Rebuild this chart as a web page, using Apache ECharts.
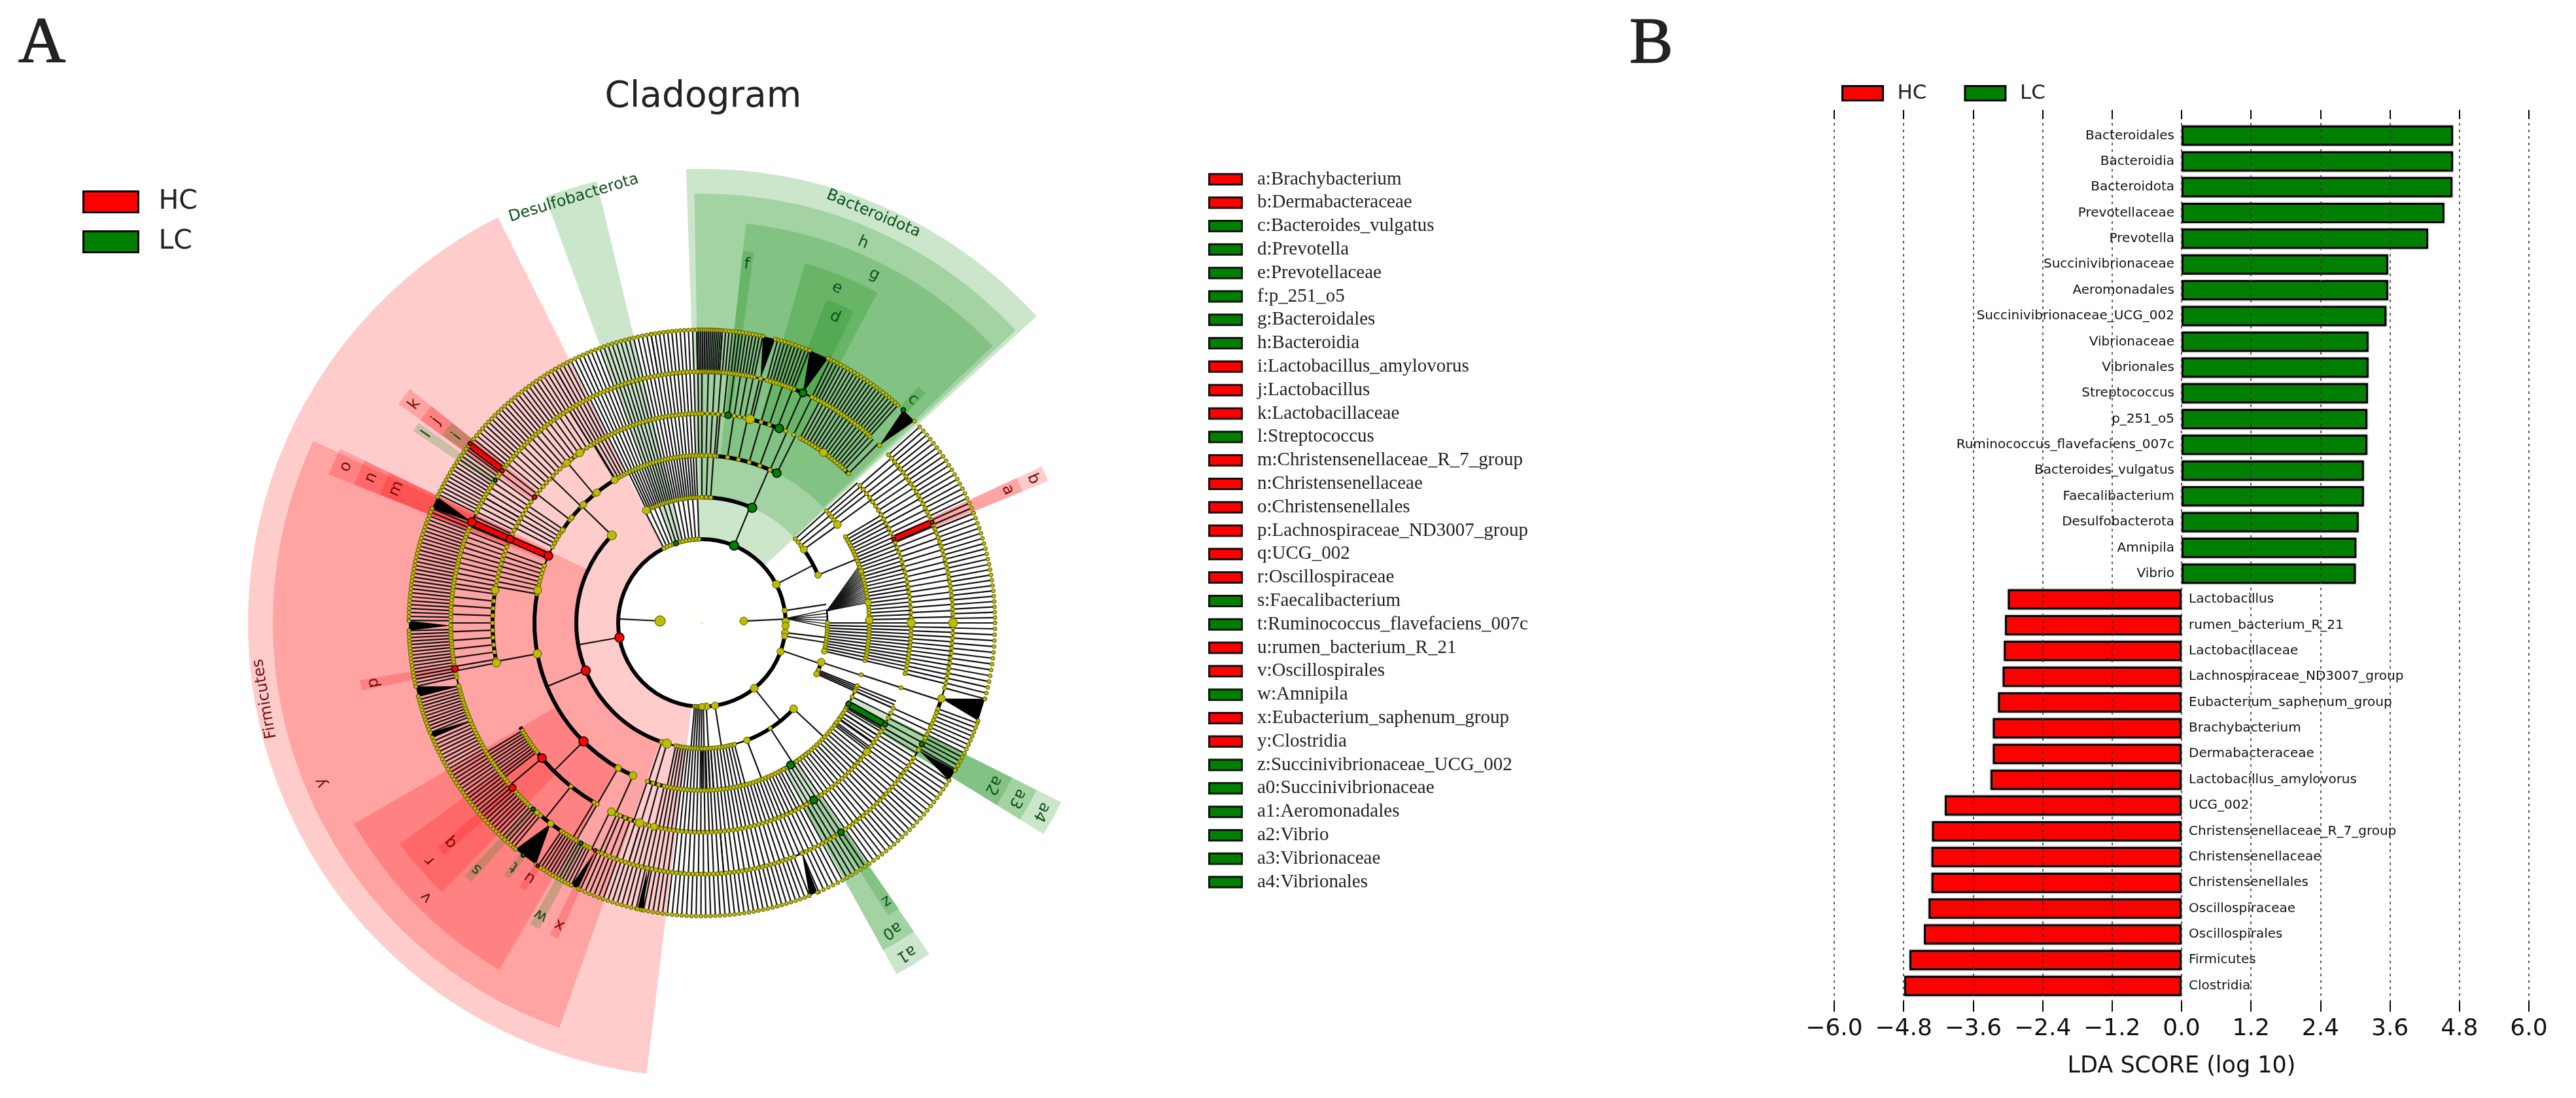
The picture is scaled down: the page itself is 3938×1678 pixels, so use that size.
<!DOCTYPE html>
<html><head><meta charset="utf-8">
<style>html,body{margin:0;padding:0;background:#fff}#c{width:3938px;height:1678px}</style>
<script src="https://cdn.jsdelivr.net/npm/echarts@6/dist/echarts.min.js"></script>
</head><body><div id="c"></div>
<script>
// ---------- Panel B: LDA scores ----------
const ldaNames = ['Bacteroidales','Bacteroidia','Bacteroidota','Prevotellaceae','Prevotella','Succinivibrionaceae','Aeromonadales','Succinivibrionaceae_UCG_002','Vibrionaceae','Vibrionales','Streptococcus','p_251_o5','Ruminococcus_flavefaciens_007c','Bacteroides_vulgatus','Faecalibacterium','Desulfobacterota','Amnipila','Vibrio','Lactobacillus','rumen_bacterium_R_21','Lactobacillaceae','Lachnospiraceae_ND3007_group','Eubacterium_saphenum_group','Brachybacterium','Dermabacteraceae','Lactobacillus_amylovorus','UCG_002','Christensenellaceae_R_7_group','Christensenellaceae','Christensenellales','Oscillospiraceae','Oscillospirales','Firmicutes','Clostridia'];
const ldaScores = [4.69,4.69,4.68,4.54,4.26,3.57,3.57,3.54,3.23,3.23,3.22,3.21,3.21,3.15,3.15,3.06,3.02,3.01,-3.00,-3.05,-3.07,-3.09,-3.17,-3.26,-3.26,-3.30,-4.09,-4.31,-4.32,-4.32,-4.37,-4.45,-4.70,-4.79];
const groups = ['HC','LC'];
// ---------- Panel A: taxa key ----------
const keyNames = ['a:Brachybacterium','b:Dermabacteraceae','c:Bacteroides_vulgatus','d:Prevotella','e:Prevotellaceae','f:p_251_o5','g:Bacteroidales','h:Bacteroidia','i:Lactobacillus_amylovorus','j:Lactobacillus','k:Lactobacillaceae','l:Streptococcus','m:Christensenellaceae_R_7_group','n:Christensenellaceae','o:Christensenellales','p:Lachnospiraceae_ND3007_group','q:UCG_002','r:Oscillospiraceae','s:Faecalibacterium','t:Ruminococcus_flavefaciens_007c','u:rumen_bacterium_R_21','v:Oscillospirales','w:Amnipila','x:Eubacterium_saphenum_group','y:Clostridia','z:Succinivibrionaceae_UCG_002','a0:Succinivibrionaceae','a1:Aeromonadales','a2:Vibrio','a3:Vibrionaceae','a4:Vibrionales'];
const keyGroups = [0,0,1,1,1,1,1,1,0,0,0,1,0,0,0,0,0,0,1,1,0,0,1,0,0,1,1,1,1,1,1];
// ---------- Panel A: cladogram ----------
const rings = [64,128,192,256,320,384,448];       // taxonomic level radii
// clade shading: label, group, level (index into rings), first angle, last angle
const clades = [
 ['Firmicutes',0,1,116.7,263],['Desulfobacterota',1,1,103.4,110.2],['Bacteroidota',1,1,42.5,92],
 ['y',0,2,154.9,250.6],['h',1,2,43,91],
 ['g',1,3,43.6,83.7],['v',0,3,210,239.7],['o',0,3,154.3,158.3],['a1',1,3,299,304.5],['a4',1,3,328.3,333.5],
 ['e',1,4,62,74],['f',1,4,82,83.7],['n',0,4,154.3,158.3],['k',0,4,141.3,144.2],['r',0,4,216.2,226],['b',0,4,22.3,24.7],['a0',1,4,299,304.5],['a3',1,4,328.3,333.5],
 ['d',1,5,64,68.9],['m',0,5,154.3,158.3],['j',0,5,141.3,144.2],['l',1,5,144.8,146.4],['p',0,5,189.5,191.2],['q',0,5,220.3,222],['s',1,5,226.8,228.3],['w',1,5,240.3,242],['x',0,5,244,245.5],['a',0,5,22.3,24.7],['z',1,5,302.5,304.6],['a2',1,5,328.3,333.5],
 ['c',1,6,45.7,47.5],['i',1,6,141.3,144.2],['t',1,6,231.8,233],['u',0,6,235.3,236.6]
];
// branch bundles: level it leaves, first angle, last angle, branches
const branches = [
 [1,190,190,1],[1,92,117,12],[1,67.4,67.4,1],[1,27.4,27.4,1],[1,8.5,8.5,1],[1,353.3,353.3,1],[1,351,351,1],[1,341,341,1],[1,308.7,308.7,1],[1,279,279,1],[1,273,273,1],[1,265,271,6],
 [2,135.8,135.8,1],[2,202.3,202.3,1],[2,251.4,251.4,1],[2,253.8,253.8,1],[2,258,274,15],[2,92,116,26],[2,86,90,3],[2,66.4,66.4,1],[2,22.4,22.4,1],[2,35.8,35.8,1],[2,38,42,3],[2,347,360,12],[2,341.8,341.8,1],[2,336,338,4],[2,316.9,316.9,1],[2,303,303,1],[2,291,291,1],[2,270,285,12],
 [3,156.4,156.4,1],[3,190.6,190.6,1],[3,225,225,1],[3,245.7,245.7,1],[3,240,240,1],[3,251,255,3],[3,257,272,14],[3,160,170,8],[3,146,153,6],[3,121.3,121.3,1],[3,130,130,1],[3,136,136,1],[3,142,142,1],[3,90,121,30],[3,63.4,63.4,1],[3,66,85,6],[3,85.7,90,4],[3,0,31,28],[3,36,36,1],[3,38,42,4],[3,347,360,14],[3,342,342,1],[3,336,338,3],[3,323,336,7],[3,298,330,26],[3,273,297,22],
 [4,0,41,30],[4,45.5,47,2],[4,48,62,16],[4,64,76,6],[4,76.7,90,10],[4,90,122,36],[4,122,150,22],[4,150,171,18],[4,172,190,10],[4,191,191,1],[4,211,218,10],[4,220.2,220.2,1],[4,231.3,231.3,1],[4,239,240,2],[4,244,246,2],[4,247,253,5],[4,253,275,20],[4,275,300,22],[4,300,330,26],[4,330,336,5],[4,342,342,1],[4,346,360,14],
 [5,0,22,22],[5,22,42,20],[5,48,64,22],[5,68.5,75,10],[5,78,86,13],[5,86,91,14],[5,91,100,12],[5,100,120,24],[5,120,142,26],[5,142,154,16],[5,157,179.5,30],[5,181.5,192.5,17],[5,194.5,202,12],[5,203,230,36],[5,236,243.5,12],[5,245.5,258,14],[5,258.5,291.5,36],[5,293.5,327.5,34],[5,330,340,12],[5,345,360,14]
];
// tightly packed fans seen as black wedges: level, apex angle, first tip angle, last tip angle
const wedges = [[5,45,43.5,46.6],[5,66.3,64.5,68.4],[5,76.5,75.5,78],[5,342.5,340.5,345],[5,329.6,327.5,329.8],[5,293.5,291.5,293.2],[5,233,230.5,235.5],[5,180.6,179.6,181.5],[5,194.6,192.5,194.5],[5,156.3,154.5,157],[5,245,243.5,245],[5,257.5,257.3,258.5],[5,202.8,202,203]];
// grey fans of separate branches: level, apex angle, first tip angle, last tip angle, branches
const fans = [[2,5.5,7,20,22],[1,3,-2,6,6]];
// heavy arcs on each level: level, first angle, last angle
const heavyArcs = [[1,0,360],[2,135.8,251.4],[2,66.4,90],[2,22.4,35.8],[2,291,316.9],[2,336,341.8],[3,121.3,146],[3,168.7,245.7],[3,63.4,85.7],[3,251,257.4],[3,297.8,310],[3,18,31],[4,171,191],[4,209.8,239],[4,125.7,130.2],[4,68.3,76.7],[4,45.5,62],[4,244.4,252.7],[5,229,238],[5,338.9,342.5],[5,66.3,68.6]];
const lightArcs = [[2,91,116.3],[2,251.4,290],[2,347,360],[2,0,6],[3,146,168.7],[3,90,121],[3,257,298],[3,310,336],[3,347,360],[3,0,18],[4,76.7,122],[4,134,170],[4,255,335],[4,346,360],[4,0,41],[5,0,42],[5,48,360]];
// larger nodes: level, angle, diameter
const bigNodes = [[0,177.3,16],[0,2.6,12],[1,27.4,12],[1,8.5,8],[1,1,11],[1,358,11],[1,353.3,11],[1,351,9],[1,340,11],[1,308.7,12],[1,279,11],[1,273,11],[1,270,10],[2,135.8,14],[2,116.3,12],[2,22.4,10],[2,35.8,11],[2,347,9],[2,341.8,12],[2,336,9],[2,316.9,12],[2,291,10],[2,251.4,8],[2,253.8,14],[3,146.3,8],[3,121.4,11],[3,128.9,11],[3,135,10],[3,141,8],[3,168.7,12],[3,190.6,13],[3,245.7,12],[3,240,10],[3,36,12],[3,1,12],[3,7,10],[3,18,8],[4,0,13],[4,76.7,14],[4,125.7,12],[4,130.2,11],[4,171,12],[4,191,13],[4,244.4,12],[4,252.7,13],[4,256.8,11],[4,54.5,12],[4,322,11],[5,0,14],[5,342.5,12],[5,229,8],[5,233,10]];
// significant nodes: group, level, angle, diameter
const markedNodes = [[0,1,190,14],[0,2,202.3,14],[0,3,225,14],[0,4,220.2,13],[0,5,221,11],[0,3,156.4,13],[0,4,156.4,12],[0,5,156.3,13],[0,4,143,7],[0,5,142.7,7],[0,6,142.3,6],[0,4,23.6,6],[0,5,23.6,6],[0,5,190.5,10],[0,6,235.9,5],[0,5,244.8,5],
 [1,1,67.4,14],[1,2,66.4,14],[1,3,63.4,13],[1,4,68.3,13],[1,5,66.3,12],[1,4,82.8,10],[1,1,108,8],[1,6,46.6,7],[1,5,145.4,6],[1,5,227.8,6],[1,6,232.4,6],[1,5,241.2,6],[1,5,303.6,10],[1,4,302.3,12],[1,3,302,12],[1,3,331,8],[1,4,331,8],[1,5,331.2,8]];
// highlighted branch segments: group, inner level, outer level, angle
const markedBranches = [[0,3,5,156.4],[0,5,6,142.5],[0,4,5,23.6],[1,3,4,331]];

// ---------- library-facing helpers ----------
const COLORS = ['#ff0000','#008000'];
const INK = ['#6e0c0c','#0e4f1e'];
const bandEnd = [0,694,656,614,572,530,490];       // outer edge per level
const labelR = [0,678,631,594,552,510,470];
const DEG = Math.PI/180;
const norm = a => ((a%360)+360)%360;
function geom(api){const o=api.coord([0,0]);const p=api.coord([100,0]);return{cx:o[0],cy:o[1],k:(p[0]-o[0])/100};}

const lineRows = [];
branches.forEach(([lv,a0,a1,n])=>{for(let i=0;i<n;i++){const a=n>1?a0+(a1-a0)*i/(n-1):a0;lineRows.push([rings[lv],rings[lv+1],norm(a),norm(a),2.2]);}});
fans.forEach(([lv,ap,a0,a1,n])=>{for(let i=0;i<n;i++){const a=a0+(a1-a0)*i/(n-1);lineRows.push([rings[lv],rings[lv+1],norm(ap),norm(a),1.4]);}});
lineRows.push([64,128,177.3,177.3,2.2],[64,128,2.6,2.6,2.2]);
const dotRows = [];
branches.forEach(([lv,a0,a1,n])=>{for(let i=0;i<n;i++){const a=n>1?a0+(a1-a0)*i/(n-1):a0;dotRows.push([rings[lv],norm(a),6.5]);if(lv===5)dotRows.push([rings[6],norm(a),6]);}});
wedges.forEach(([lv,ap,a0,a1])=>{dotRows.push([rings[lv],norm(ap),7],[rings[lv+1],norm(a0),6],[rings[lv+1],norm(a1),6]);});
bigNodes.forEach(([lv,a,s])=>dotRows.push([rings[lv],norm(a),s]));

const sectorSeries = {type:'custom',coordinateSystem:'polar',silent:true,z:1,
 data:clades.map(c=>[rings[c[2]],bandEnd[c[2]],c[3],c[4]]),
 renderItem(p,api){const g=geom(api);const c=clades[p.dataIndex];
  return {type:'sector',shape:{cx:g.cx,cy:g.cy,r0:api.value(0)*g.k,r:api.value(1)*g.k,startAngle:-api.value(2)*DEG,endAngle:-api.value(3)*DEG,clockwise:false},
   style:{fill:COLORS[c[1]],opacity:0.2,stroke:null}};}};
const lineSeries = {type:'custom',coordinateSystem:'polar',silent:true,z:2,data:lineRows,
 renderItem(p,api){const a=api.coord([api.value(0),api.value(2)]);const b=api.coord([api.value(1),api.value(3)]);
  return {type:'line',shape:{x1:a[0],y1:a[1],x2:b[0],y2:b[1]},style:{stroke:'#111',lineWidth:api.value(4),fill:null}};}};
const wedgeSeries = {type:'custom',coordinateSystem:'polar',silent:true,z:3,data:wedges.map(w=>[rings[w[0]],rings[w[0]+1],norm(w[1]),norm(w[2]),norm(w[3])]),
 renderItem(p,api){const a=api.coord([api.value(0),api.value(2)]);const b=api.coord([api.value(1),api.value(3)]);const c=api.coord([api.value(1),api.value(4)]);
  return {type:'polygon',shape:{points:[a,b,c]},style:{fill:'#000'}};}};
function arcSeries(rows,w){return {type:'custom',coordinateSystem:'polar',silent:true,z:3,data:rows.map(r=>[rings[r[0]],r[1],r[2]]),
 renderItem(p,api){const g=geom(api);return {type:'arc',shape:{cx:g.cx,cy:g.cy,r:api.value(0)*g.k,startAngle:-api.value(1)*DEG,endAngle:-api.value(2)*DEG,clockwise:false},style:{stroke:'#000',lineWidth:w,fill:null}};}};}
const markBranchSeries = {type:'custom',coordinateSystem:'polar',silent:true,z:4,
 data:markedBranches.map(b=>[rings[b[1]],rings[b[2]],b[3]]),
 renderItem(p,api){const a=api.coord([api.value(0),api.value(2)]);const b=api.coord([api.value(1),api.value(2)]);const m=markedBranches[p.dataIndex];
  return {type:'group',children:[
   {type:'line',shape:{x1:a[0],y1:a[1],x2:b[0],y2:b[1]},style:{stroke:'#000',lineWidth:11,fill:null}},
   {type:'line',shape:{x1:a[0],y1:a[1],x2:b[0],y2:b[1]},style:{stroke:COLORS[m[0]],lineWidth:7,fill:null}}]};}};
const dotSeries = {type:'scatter',coordinateSystem:'polar',silent:true,z:5,data:dotRows,symbolSize:v=>v[2],
 itemStyle:{color:'#bcbc00',borderColor:'#4d4d00',borderWidth:1,opacity:1}};
function markedSeries(g){return {type:'scatter',coordinateSystem:'polar',silent:true,z:6,
 data:markedNodes.filter(m=>m[0]===g).map(m=>[rings[m[1]],m[2],m[3]]),symbolSize:v=>v[2],
 itemStyle:{color:COLORS[g],borderColor:'#000',borderWidth:1.5,opacity:1}};}
const centreSeries = {type:'scatter',coordinateSystem:'polar',silent:true,z:5,data:[[0,0]],symbolSize:4,symbol:'rect',itemStyle:{color:'#eeee99'}};
const cladeLabelSeries = {type:'custom',coordinateSystem:'polar',silent:true,z:7,
 data:clades.map(c=>[labelR[c[2]],norm((c[3]+c[4])/2)]),
 renderItem(p,api){const c=clades[p.dataIndex];const q=api.coord([api.value(0),api.value(1)]);
  return {type:'text',x:q[0],y:q[1],rotation:(api.value(1)-90)*DEG,
   style:{text:c[0],fill:INK[c[1]],font:'24px "DejaVu Sans"',align:'center',verticalAlign:'middle'}};}};

const barBorder = {borderColor:'#000',borderWidth:3,shadowColor:'rgba(90,90,90,.6)',shadowBlur:3};
function barSeries(g){
 const sign = g===0?-1:1;
 return {type:'bar',name:groups[g],xAxisIndex:0,yAxisIndex:0,barWidth:31,barGap:'-100%',z:2,silent:true,
  data:[null,...ldaScores.map(v=>v*sign>0?v:null),null],
  itemStyle:{color:COLORS[g],...barBorder},
  label:{show:true,position:g===0?'right':'left',distance:11,formatter:'{b}',color:'#111',fontFamily:'DejaVu Sans',fontSize:20}};
}
const legendBase = {data:groups,icon:'rect',orient:'horizontal',selectedMode:false,
 itemStyle:{borderColor:'#000',borderWidth:3},textStyle:{fontFamily:'DejaVu Sans',color:'#222'}};

const option = {
 animation:false,backgroundColor:'#fff',
 title:[
  {text:'Cladogram',left:1070,top:116,textAlign:'center',textStyle:{fontFamily:'DejaVu Sans',fontWeight:'normal',fontSize:55,color:'#222'}},
  {text:'A',left:23,top:14,textStyle:{fontFamily:'Liberation Serif',fontWeight:'normal',fontSize:100,color:'#222',textBorderColor:'#222',textBorderWidth:1.5}},
  {text:'B',left:2486,top:14,textStyle:{fontFamily:'Liberation Serif',fontWeight:'normal',fontSize:100,color:'#222',textBorderColor:'#222',textBorderWidth:1.5}}
 ],
 legend:[
  {...legendBase,orient:'vertical',left:121,top:283,itemWidth:84,itemHeight:32,itemGap:20,
   textStyle:{...legendBase.textStyle,fontSize:41,padding:[0,0,0,26]}},
  {...legendBase,left:2810,top:122,itemWidth:62,itemHeight:22,itemGap:57,
   textStyle:{...legendBase.textStyle,fontSize:31,padding:[0,0,0,17]}}
 ],
 polar:{center:[1073,952],radius:700},
 angleAxis:{type:'value',min:0,max:360,startAngle:0,clockwise:false,show:false},
 radiusAxis:{type:'value',min:0,max:700,show:false},
 grid:[
  {left:2804,top:168,width:1062,height:1378},
  {left:1847,top:256,width:53,height:1110}
 ],
 xAxis:[
  {gridIndex:0,type:'value',min:-6,max:6,interval:1.2,position:'bottom',z:3,
   axisLine:{show:false},axisTick:{show:true,inside:true,length:16,lineStyle:{color:'#000',width:2}},
   splitLine:{show:true,lineStyle:{type:[4,6],color:'#333',width:1.6}},
   axisLabel:{show:true,margin:9,fontFamily:'DejaVu Sans',fontSize:36,color:'#111',showMinLabel:true,showMaxLabel:true,
    formatter:v=>(v<-1e-9?'\u2212':'')+Math.abs(v).toFixed(1)},
   name:'LDA SCORE (log 10)',nameLocation:'center',nameGap:66,nameTextStyle:{fontFamily:'DejaVu Sans',fontSize:35,color:'#111'}},
  {gridIndex:0,type:'value',min:-6,max:6,interval:1.2,position:'top',z:3,
   axisLine:{show:false},axisLabel:{show:false},splitLine:{show:false},
   axisTick:{show:true,inside:true,length:14,lineStyle:{color:'#000',width:2}}},
  {gridIndex:1,type:'value',min:0,max:1,show:false}
 ],
 yAxis:[
  {gridIndex:0,type:'category',inverse:true,boundaryGap:false,data:['',...ldaNames,''],show:false},
  {gridIndex:1,type:'category',inverse:true,data:keyNames,position:'right',
   axisLine:{show:false},axisTick:{show:false},
   axisLabel:{show:true,interval:0,margin:22,align:'left',fontFamily:'Liberation Serif',fontSize:29,color:'#222'}}
 ],
 series:[
  sectorSeries,lineSeries,wedgeSeries,arcSeries(lightArcs,2.5),arcSeries(heavyArcs,6),markBranchSeries,dotSeries,markedSeries(0),markedSeries(1),centreSeries,cladeLabelSeries,
  barSeries(0),barSeries(1),
  {type:'bar',name:'key',xAxisIndex:2,yAxisIndex:1,barWidth:19,silent:true,
   data:keyGroups.map(g=>({value:1,itemStyle:{color:COLORS[g]}})),itemStyle:{borderColor:'#111',borderWidth:3}}
 ]
};
const chart = echarts.init(document.getElementById('c'),null,{renderer:'canvas'});
chart.setOption(option);
</script></body></html>
